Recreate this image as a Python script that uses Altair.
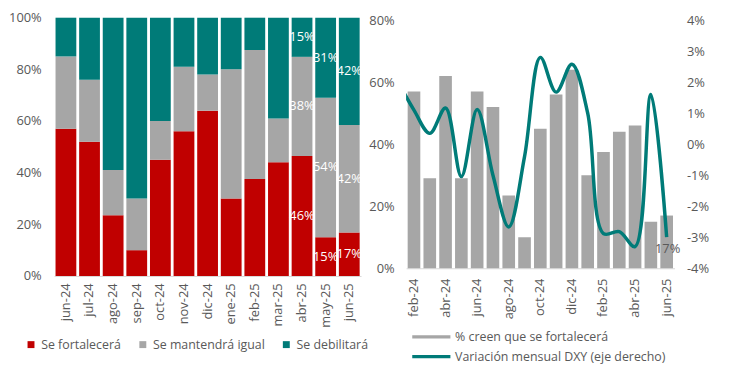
import altair as alt
import pandas as pd

# ---------------- Left chart data ----------------
meses_izq = ["jun-24", "jul-24", "ago-24", "sep-24", "oct-24", "nov-24", "dic-24",
             "ene-25", "feb-25", "mar-25", "abr-25", "may-25", "jun-25"]
se_fortalecera = [57, 52, 23.5, 10, 45, 56, 64, 30, 37.5, 44, 46, 15, 17]
se_mantendra = [28, 24, 17.5, 20, 15, 25, 14, 50, 50, 17, 38, 54, 42]
se_debilitara = [15, 24, 59, 70, 40, 19, 22, 20, 12.5, 39, 15, 31, 42]
categorias = ["Se fortalecerá", "Se mantendrá igual", "Se debilitará"]
colores_izq = ["#C00000", "#A6A6A6", "#007B78"]
meses_etiqueta = ["abr-25", "may-25", "jun-25"]

# ---------------- Right chart data ----------------
meses_der = ["feb-24", "mar-24", "abr-24", "may-24", "jun-24", "jul-24", "ago-24",
             "sep-24", "oct-24", "nov-24", "dic-24", "ene-25", "feb-25", "mar-25",
             "abr-25", "may-25", "jun-25"]
pct_fortalecera = [57, 29, 62, 29, 57, 52, 23.5, 10, 45, 56, 64, 30, 37.5, 44, 46, 15, 17]
mes_previo = "ene-24"
dxy_previo = 2.0
dxy_var = [1.1, 0.35, 1.17, -1.04, 1.12, -1.0, -2.67, -0.4, 2.8, 1.68, 2.58, 1.0,
           -2.88, -2.82, -3.3, 1.6, -3.0]
ticks_der = ["feb-24", "abr-24", "jun-24", "ago-24", "oct-24", "dic-24",
             "feb-25", "abr-25", "jun-25"]
serie_barra = "% creen que se fortalecerá"
serie_linea = "Variación mensual DXY (eje derecho)"
colores_der = ["#A6A6A6", "#007B78"]

FONT = "Open Sans"
GRIS = "#595959"
H = 261

# ---------------- Left chart ----------------
rows = []
for i, m in enumerate(meses_izq):
    for j, vals in enumerate([se_fortalecera, se_mantendra, se_debilitara]):
        rows.append(dict(mes=m, cat=categorias[j], orden=j, valor=vals[i]))
df_izq = pd.DataFrame(rows)

x_izq = alt.X("mes:N", sort=meses_izq, title=None,
              scale=alt.Scale(paddingInner=0.12, paddingOuter=0.06),
              axis=alt.Axis(labelAngle=-90, labelPadding=7, ticks=False,
                            domainColor="#D9D9D9"))

bars_izq = alt.Chart(df_izq).mark_bar().encode(
    x=x_izq,
    y=alt.Y("valor:Q", stack="normalize", title=None,
            axis=alt.Axis(values=[0, 0.2, 0.4, 0.6, 0.8, 1.0], format=".0%",
                          ticks=False, domain=False, grid=False, labelPadding=13)),
    color=alt.Color("cat:N", scale=alt.Scale(domain=categorias, range=colores_izq),
                    legend=alt.Legend(title=None, orient="none", legendX=-29.6, legendY=H + 63,
                                      direction="horizontal", symbolType="square",
                                      symbolSize=49, labelOffset=4, columnPadding=15,
                                      padding=0)),
    order=alt.Order("orden:Q"),
)

labels_izq = alt.Chart(df_izq).transform_filter(
    alt.FieldOneOfPredicate(field="mes", oneOf=meses_etiqueta)
).transform_stack(
    stack="valor", groupby=["mes"], sort=[alt.SortField("orden")],
    as_=["v0", "v1"], offset="normalize"
).transform_calculate(
    mid="(datum.v0 + datum.v1) / 2",
    lbl="format(datum.valor, '.0f') + '%'"
).mark_text(color="white", fontSize=13, font=FONT).encode(
    x=x_izq,
    y=alt.Y("mid:Q", title=None),
    text="lbl:N",
)

left = alt.layer(bars_izq, labels_izq).properties(width=310.2, height=H)

# ---------------- Right chart ----------------
df_bar = pd.DataFrame(dict(mes=meses_der, valor=pct_fortalecera, serie=serie_barra))
df_line = pd.DataFrame(dict(idx=[-1] + list(range(len(meses_der))),
                            mes=[mes_previo] + meses_der,
                            valor=[dxy_previo] + dxy_var,
                            serie=serie_linea))

y_range = [H - 7.8, 2.5]
x_der_scale = alt.Scale(domain=meses_der, paddingInner=0.2, paddingOuter=0.1)
y_bar_scale = alt.Scale(domain=[0, 80], range=y_range, nice=False)

color_der = alt.Color(
    "serie:N", scale=alt.Scale(domain=[serie_barra, serie_linea], range=colores_der),
    legend=alt.Legend(title=None, orient="none", legendX=18, legendY=H + 54,
                      direction="vertical", symbolType="M-2.85,-0.14H2.85V0.14H-2.85Z",
                      symbolSize=169, labelOffset=16.5, rowPadding=6, padding=0,
                      labelLimit=400))

bars_der = alt.Chart(df_bar).mark_bar().encode(
    x=alt.X("mes:N", sort=meses_der, title=None, scale=x_der_scale,
            axis=alt.Axis(values=ticks_der, labelAngle=-90, labelPadding=10, ticks=False,
                          domainColor="#D9D9D9", offset=-7.8)),
    y=alt.Y("valor:Q", title=None, scale=y_bar_scale,
            axis=alt.Axis(values=[0, 20, 40, 60, 80], labelExpr="datum.value + '%'",
                          ticks=False, domain=False, grid=False, labelPadding=12)),
    color=color_der,
)

label_der = alt.Chart(df_bar).transform_filter(
    alt.datum.mes == "jun-25"
).transform_calculate(
    lbl="format(datum.valor, '.0f') + '%'"
).mark_text(color=GRIS, fontSize=13, font=FONT, dy=34, dx=1).encode(
    x=alt.X("mes:N", sort=meses_der, scale=x_der_scale, axis=None),
    y=alt.Y("valor:Q", scale=y_bar_scale, axis=None),
    text="lbl:N",
)

line_der = alt.Chart(df_line).mark_line(strokeWidth=3.5, interpolate="catmull-rom",
                                        clip=True).encode(
    x=alt.X("idx:Q", scale=alt.Scale(domain=[-0.5, len(meses_der) - 0.5], nice=False,
                                     zero=False), axis=None),
    y=alt.Y("valor:Q", title=None,
            scale=alt.Scale(domain=[-4, 4], range=y_range, nice=False, zero=False),
            axis=alt.Axis(orient="right", values=[-4, -3, -2, -1, 0, 1, 2, 3, 4],
                          labelExpr="datum.value + '%'", ticks=False, domain=False,
                          grid=False, labelPadding=12)),
    color=color_der,
)

right = alt.layer(bars_der, label_der, line_der).resolve_scale(
    x="independent", y="independent"
).properties(width=271.3, height=H)

chart = alt.hconcat(left, right, spacing=44.7, bounds="flush").resolve_scale(
    color="independent"
).properties(
    autosize=alt.AutoSizeParams(type="none"),
    padding={"left": 46.6, "top": 6.5, "right": 680, "bottom": 358},
).configure_view(stroke=None).configure_axis(
    labelFont=FONT, labelFontSize=13, labelColor=GRIS
).configure_legend(
    labelFont=FONT, labelFontSize=12.5, labelColor=GRIS
)

chart.save("out.html", embed_options={"renderer": "svg", "actions": False})
